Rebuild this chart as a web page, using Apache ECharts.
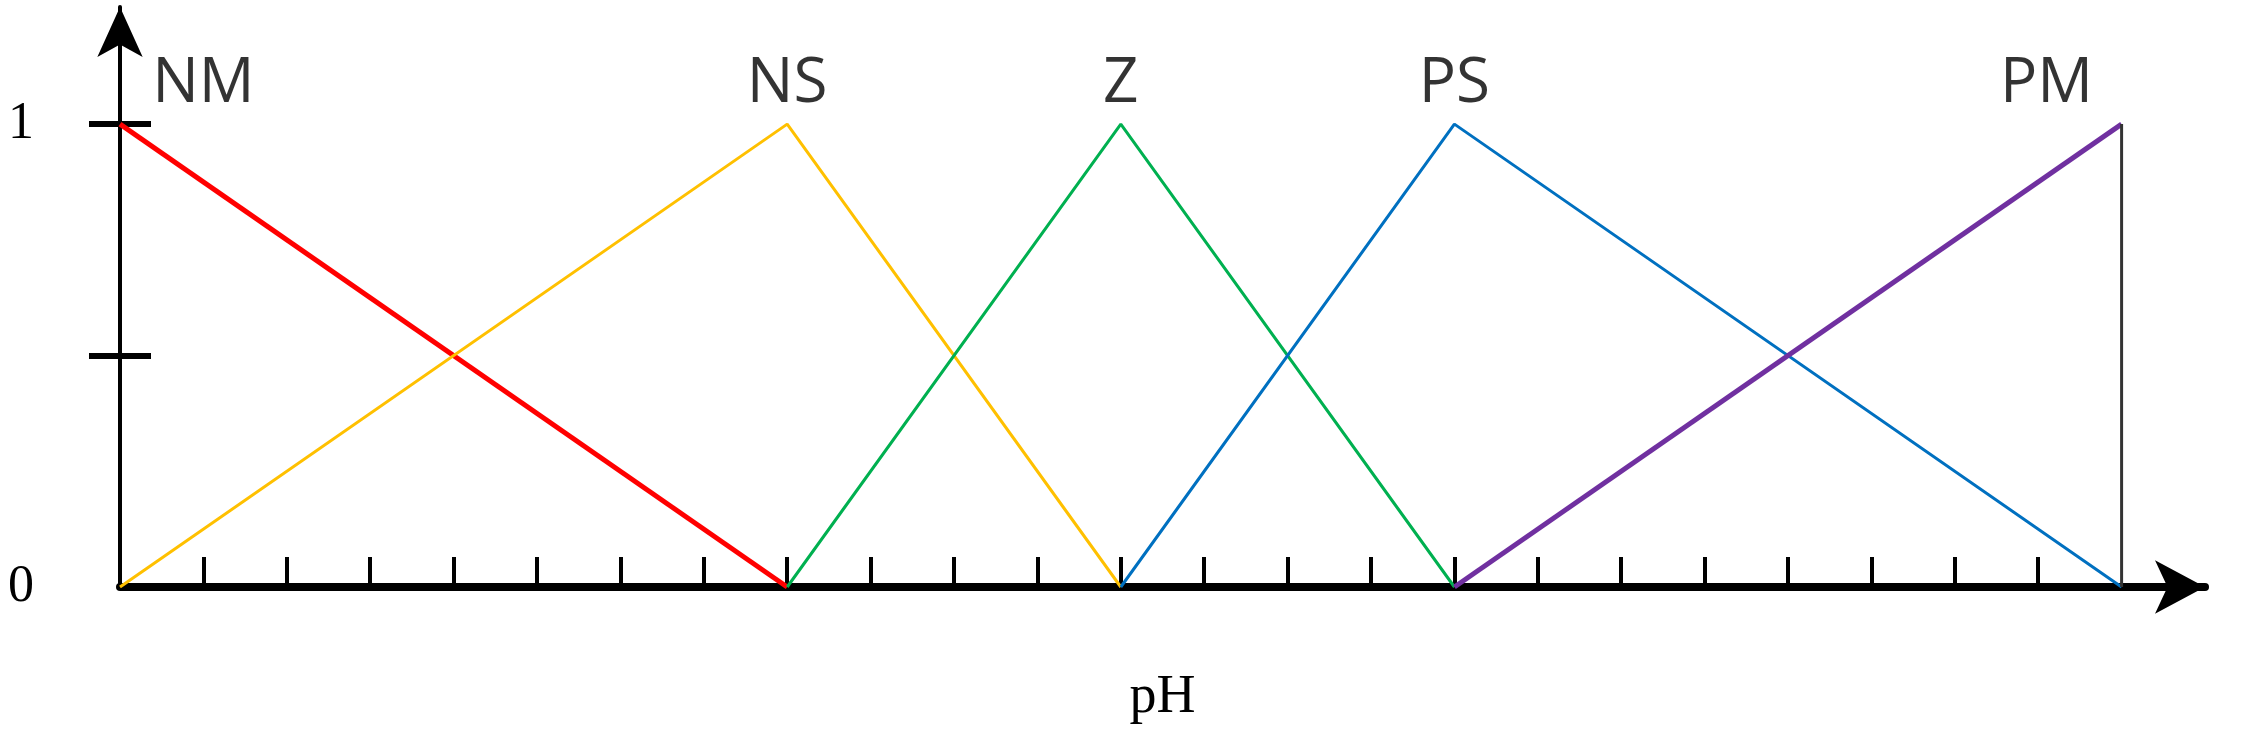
<!DOCTYPE html>
<html><head><meta charset="utf-8">
<script src="https://cdn.jsdelivr.net/npm/echarts@6/dist/echarts.min.js"></script>
<style>html,body{margin:0;background:#fff}#c{width:2252px;height:730px}</style>
</head><body><div id="c"></div>
<script>
const setNames = ['NM', 'NS', 'Z', 'PS', 'PM'];
const setColors = ['#FF0000', '#FFC000', '#00B050', '#0070C0', '#7030A0'];
const setWidths = [5, 3, 3, 3, 5];
const nmPoints = [[0, 1], [8, 0]];
const nsPoints = [[0, 0], [8, 1], [12, 0]];
const zPoints = [[8, 0], [12, 1], [16, 0]];
const psPoints = [[12, 0], [16, 1], [24, 0]];
const pmPoints = [[16, 0], [24, 1]];
const edgePoints = [[24, 1], [24, 0]];
const labelX = [1, 8, 12, 16, 23.1];
const labelY = 1.085;
const xTicks = [1,2,3,4,5,6,7,8,9,10,11,12,13,14,15,16,17,18,19,20,21,22,23];
const yTicks = [0.5, 1];
const yLabels = [0, 1];

const allPoints = [nmPoints, nsPoints, zPoints, psPoints, pmPoints];
const series = allPoints.map((pts, i) => ({
  name: setNames[i], type: 'line', data: pts, symbol: 'none',
  lineStyle: { color: setColors[i], width: setWidths[i] }, z: 3
}));
series.push({ type: 'line', data: edgePoints, symbol: 'none',
  lineStyle: { color: '#333', width: 3 }, z: 3 });
series.push({ type: 'scatter', symbolSize: 0,
  data: labelX.map((x, i) => [x, labelY, setNames[i]]),
  label: { show: true, position: 'inside', formatter: p => p.data[2],
    fontFamily: 'Open Sans', fontSize: 62, color: '#000' } });

const chart = echarts.init(document.getElementById('c'));
chart.setOption({
  animation: false,
  grid: { left: 120, right: 47, top: 7, bottom: 100 - 23 },
  xAxis: {
    type: 'value', min: 0, max: 25,
    name: 'pH', nameLocation: 'middle', nameGap: 84,
    nameTextStyle: { fontFamily: 'Liberation Serif', fontSize: 54, color: '#000' },
    axisLine: { lineStyle: { color: '#000', width: 8 }, symbol: ['none', 'arrow'], symbolSize: [40, 50] },
    axisTick: { show: true, inside: true, length: 30, customValues: xTicks, lineStyle: { color: '#000', width: 4 } },
    axisLabel: { show: false }, splitLine: { show: false }
  },
  yAxis: [{
    type: 'value', min: 0, max: 1.253,
    axisLine: { show: true, onZero: false, lineStyle: { color: '#000', width: 4 }, symbol: ['none', 'arrow'], symbolSize: [34, 50] },
    axisTick: { show: true, length: 31, customValues: yTicks, lineStyle: { color: '#000', width: 6 } },
    axisLabel: { show: true, customValues: yLabels, margin: 112, align: 'left',
      fontFamily: 'Liberation Serif', fontSize: 52, color: '#000' },
    splitLine: { show: false }
  }, {
    type: 'value', min: 0, max: 1.253, position: 'left',
    axisLine: { show: false },
    axisTick: { show: true, inside: true, length: 31, customValues: yTicks, lineStyle: { color: '#000', width: 6 } },
    axisLabel: { show: false }, splitLine: { show: false }
  }],
  series: series
});
</script></body></html>
